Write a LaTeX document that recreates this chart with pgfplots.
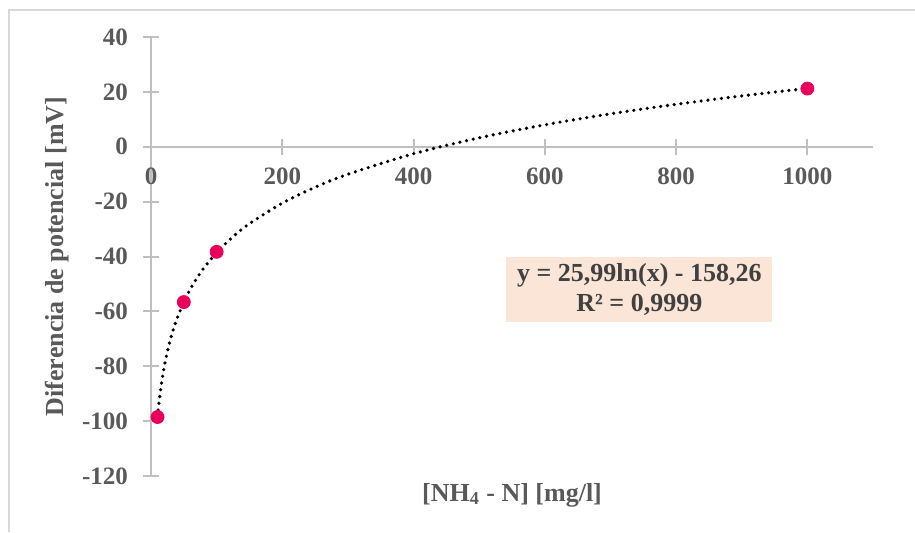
\documentclass[border=0pt]{standalone}
\usepackage{pgfplots}
\pgfplotsset{compat=1.18}
\usepackage{fontspec}
\setmainfont{Liberation Serif}
\definecolor{ptcol}{RGB}{232,0,90}
\definecolor{boxfill}{RGB}{251,229,214}
\definecolor{txtgray}{RGB}{89,89,89}
\definecolor{eqgray}{RGB}{64,64,64}
\definecolor{axgray}{RGB}{191,191,191}
\definecolor{framegray}{RGB}{217,217,217}
\begin{document}
\begin{tikzpicture}
\useasboundingbox (0,0) rectangle (457.5pt,266pt);
\draw[framegray, line width=1pt] (4.5pt,0) -- (4.5pt,261pt) -- (457.5pt,261pt);
\begin{axis}[
  at={(75.5pt,28pt)}, anchor=south west,
  scale only axis, width=361pt, height=219.5pt,
  xmin=0, xmax=1100, ymin=-120, ymax=40,
  axis lines=middle,
  axis line style={-, draw=axgray, line width=1pt},
  hide obscured x ticks=false, hide obscured y ticks=false,
  xtick={0,200,400,600,800,1000},
  ytick={-120,-100,-80,-60,-40,-20,0,20,40},
  major tick length=8pt, tick align=center,
  tick style={draw=axgray, line width=1pt},
  /pgf/number format/assume math mode=true,
  /pgf/number format/1000 sep={},
  ticklabel style={font=\fontsize{12.5}{15}\selectfont\bfseries, text=txtgray},
  xticklabel style={anchor=center, yshift=-11pt},
  yticklabel style={anchor=east, xshift=-4pt},
  xlabel={[NH\textsubscript{4} - N] [mg/l]},
  ylabel={Diferencia de potencial [mV]},
  label style={font=\fontsize{13}{15}\selectfont\bfseries, text=txtgray},
  xlabel style={at={(axis description cs:0.5,0)}, anchor=center, yshift=-9.5pt},
  ylabel style={at={(axis description cs:0,0.5)}, anchor=center, rotate=90, yshift=47pt},
  clip=false,
]
\addplot[only marks, mark=*, mark size=3.25pt, mark options={fill=ptcol, draw=ptcol}]
  coordinates {(10,-98.5) (50,-56.6) (100,-38.3) (1000,21.2)};
\addplot[black, line width=1.8pt, line cap=round, dash pattern=on 0pt off 3.4pt, smooth, tension=0.5]
  coordinates {
  (10,-98.42) (12,-93.68) (15,-87.88) (20,-80.40) (25,-74.60) (30,-69.86)
  (35,-65.86) (40,-62.39) (50,-56.59) (60,-51.85) (70,-47.84) (80,-44.37)
  (100,-38.57) (125,-32.77) (150,-28.03) (200,-20.56) (250,-14.76)
  (300,-10.02) (400,-2.54) (500,3.26) (600,8.00) (700,12.00) (800,15.47)
  (900,18.53) (1000,21.27)};
\node[fill=boxfill, align=center, minimum width=133pt, minimum height=32.5pt,
  inner sep=2pt, font=\fontsize{13}{15}\selectfont\bfseries, text=eqgray]
  at (axis cs:744,-52) {y = 25,99ln(x) - 158,26\\R² = 0,9999};
\end{axis}
\end{tikzpicture}
\end{document}
